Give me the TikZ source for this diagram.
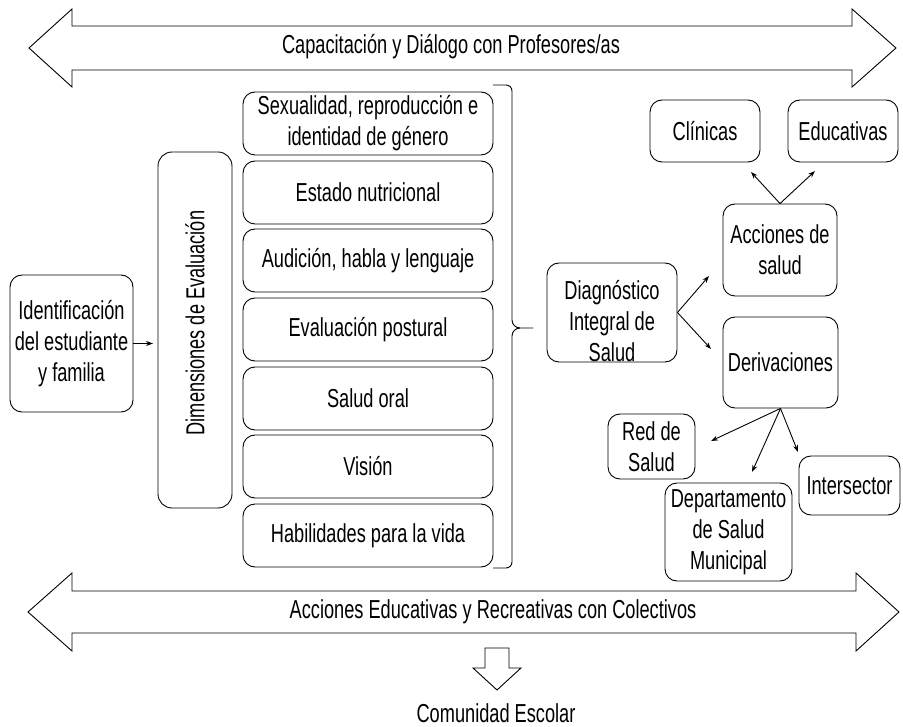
\documentclass[tikz,border=0pt]{standalone}
\usepackage{fontspec}
\setmainfont[FakeStretch=0.70]{Liberation Sans}
\usetikzlibrary{arrows.meta,calc}
\begin{document}
\begin{tikzpicture}[x=1pt,y=-1pt,
  lw/.style={line width=0.9pt},
  box/.style={draw, lw, rounded corners=12pt, align=center, inner sep=0pt, font=\fontsize{26}{31}\selectfont},
  txt/.style={align=center, inner sep=0pt, font=\fontsize{26}{31}\selectfont},
  arr/.style={lw, -{Stealth[length=7pt,width=5pt]}},
  bigarrow/.style={draw, lw, line join=miter}
]
\useasboundingbox (0,0) rectangle (903,727);

% top double arrow
\draw[bigarrow] (29,48) -- (72,9) -- (72,26) -- (852,26) -- (852,9) -- (896,48) -- (852,87) -- (852,70) -- (72,70) -- (72,87) -- cycle;
\node[txt] (toptxt) at (451,47) {Capacitación y Diálogo con Profesores/as};

% bottom double arrow
\draw[bigarrow] (28,612) -- (72,573) -- (72,591) -- (856,591) -- (856,573) -- (899,612) -- (856,651) -- (856,633) -- (72,633) -- (72,651) -- cycle;
\node[txt] (bottxt) at (493,612) {Acciones Educativas y Recreativas con Colectivos};

% down arrow
\draw[bigarrow] (485,648) -- (509,648) -- (509,668) -- (521,668) -- (497,690) -- (473,668) -- (485,668) -- cycle;
\node[txt] (comunidad) at (496,713) {Comunidad Escolar};

% identification
\node[box, minimum width=123pt, minimum height=137pt] (ident) at (71.5,343.5) {Identificación\\del estudiante\\y familia};

% dimensiones
\node[box, rounded corners=14pt, minimum width=74pt, minimum height=356pt] (dim) at (195,330) {};
\node[txt, rotate=90] (dimt) at (195,323) {Dimensiones de Evaluación};
\coordinate (dimin) at (153,343.5);
\draw[arr] (ident.east) -- (dimin);

% evaluation boxes
\node[box, minimum width=250pt, minimum height=63pt] (b1) at (368,123.5) {Sexualidad, reproducción e\\identidad de género};
\node[box, minimum width=250pt, minimum height=63pt] (b2) at (368,192.5) {Estado nutricional};
\node[box, minimum width=250pt, minimum height=63pt] (b3) at (368,260.5) {Audición, habla y lenguaje};
\node[box, minimum width=250pt, minimum height=63pt] (b4) at (368,329.5) {Evaluación postural};
\node[box, minimum width=250pt, minimum height=63pt] (b5) at (368,398.5) {Salud oral};
\node[box, minimum width=250pt, minimum height=63pt] (b6) at (368,466.5) {Visión};
\node[box, minimum width=250pt, minimum height=63pt] (b7) at (368,535.5) {Habilidades para la vida};

% brace
\draw[lw] (493,85) -- (506,85) to[out=0,in=90] (512,91) -- (512,320) to[out=-90,in=180] (520,328) -- (533,328);
\draw[lw] (520,328) to[out=180,in=90] (512,336) -- (512,562) to[out=-90,in=0] (506,568) -- (493,568);

% diagnosis
\node[box, minimum width=130pt, minimum height=99pt] (diag) at (612,312.5) {};
\node[txt] (diagt) at (612,321) {Diagnóstico\\Integral de\\Salud};

\node[box, minimum width=114pt, minimum height=92pt] (acc) at (780,250) {Acciones de\\salud};
\node[box, minimum width=115pt, minimum height=91pt] (der) at (780.5,362.5) {Derivaciones};
\node[box, minimum width=110pt, minimum height=62pt] (cli) at (705,131) {Clínicas};
\node[box, minimum width=110pt, minimum height=62pt] (edu) at (843,131) {Educativas};
\node[box, minimum width=87pt, minimum height=65pt] (red) at (651.5,446.5) {Red de\\Salud};
\node[box, minimum width=127pt, minimum height=98pt] (dep) at (728.5,532) {Departamento\\de Salud\\Municipal};
\node[box, minimum width=101pt, minimum height=59pt] (inter) at (849.5,485.5) {Intersector};

\coordinate (tacc) at (709,276);
\coordinate (tder) at (711,349);
\coordinate (tcli) at (751,172);
\coordinate (tedu) at (815,171);
\coordinate (tred) at (711,441);
\coordinate (tdep) at (752,472);
\coordinate (tint) at (798,452);

\draw[arr] (diag.east) -- (tacc);
\draw[arr] (diag.east) -- (tder);
\draw[arr] (acc.north) -- (tcli);
\draw[arr] (acc.north) -- (tedu);
\draw[arr] (der.south) -- (tred);
\draw[arr] (der.south) -- (tdep);
\draw[arr] (der.south) -- (tint);
\end{tikzpicture}
\end{document}
